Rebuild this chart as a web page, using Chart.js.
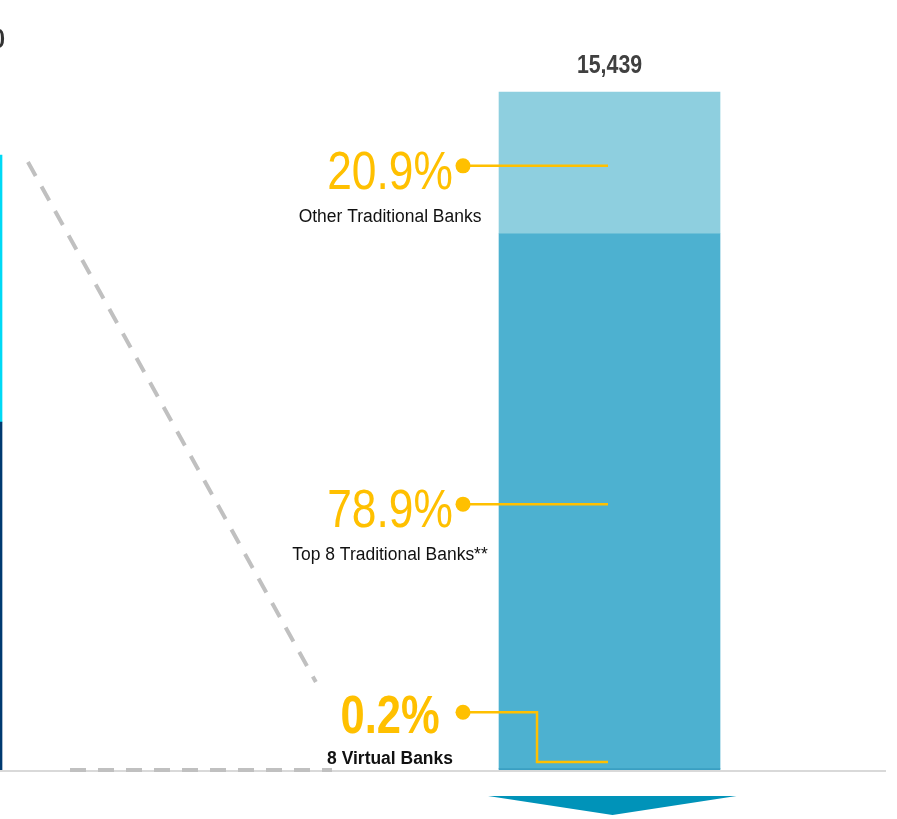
<!DOCTYPE html>
<html>
<head>
<meta charset="utf-8">
<script src="https://cdn.jsdelivr.net/npm/chart.js@4/dist/chart.umd.min.js"></script>
<style>
  html, body { margin: 0; padding: 0; background: #fff; overflow: hidden; }
</style>
</head>
<body>
<canvas id="c" width="897" height="819"></canvas>
<script>
// --- data ---
const segLabels = ['8 Virtual Banks', 'Top 8 Traditional Banks**', 'Other Traditional Banks'];
const segShares = [0.2, 78.9, 20.9];
const segValues = [31, 12181, 3227];
const totalValue = 15439;
const segColors = ['#3a9fc2', '#4db1d0', '#8ecfdf'];

// bar cut off at the left edge (previous panel)
const prevValues = [7925, 6080];
const prevColors = ['#003a70', '#00d9f5'];

const barPos = [0, 1]; // previous bar, current bar

// dashed connector (data units)
const slantLine = [{ x: 0.19, y: 13843 }, { x: 0.591, y: 2004 }];
const flatLine = [{ x: 0.2486, y: 0 }, { x: 0.6135, y: 0 }];

const SANS = '"Liberation Sans", Arial, sans-serif';
const YELLOW = '#ffc000';

const datasets = [];
prevValues.forEach((v, i) => {
    datasets.push({ type: 'bar', label: 'prev' + i, data: [{ x: barPos[0], y: v }], backgroundColor: prevColors[i], barThickness: 221, order: 2 });
});
segValues.forEach((v, i) => {
    datasets.push({ type: 'bar', label: segLabels[i], data: [{ x: barPos[1], y: v }], backgroundColor: segColors[i], barThickness: 221, order: 2 });
});
[slantLine, flatLine].forEach((pts, i) => {
    datasets.push({ type: 'line', label: 'conn' + i, data: pts, borderColor: '#c0c0c0', borderWidth: 4,
        borderDash: [16, 12], pointRadius: 0, fill: false, clip: false, stack: 'lines' + i, order: 1 });
});

// texte "narrow" : Liberation Sans compressé horizontalement
function narrowText(ctx, text, x, y, font, align, sx) {
    ctx.save();
    ctx.translate(x, y);
    ctx.scale(sx || 0.82, 1);
    ctx.font = font;
    ctx.textAlign = align;
    ctx.textBaseline = 'alphabetic';
    ctx.fillText(text, 0, 0);
    ctx.restore();
}

// plugin pour les annotations
const decor = {
    id: 'decor',
    beforeDatasetsDraw(chart) {
        const ctx = chart.ctx;
        const y0 = chart.scales.y.getPixelForValue(0);
        ctx.save();
        ctx.strokeStyle = '#d9d9d9';
        ctx.lineWidth = 2;
        ctx.beginPath();
        ctx.moveTo(0, y0 + 1);
        ctx.lineTo(886, y0 + 1);
        ctx.stroke();
        ctx.restore();
    },
    afterDatasetsDraw(chart) {
        const ctx = chart.ctx;
        const first = prevValues.length;
        const bars = segValues.map((v, i) => chart.getDatasetMeta(first + i).data[0]);
        const top = bars[bars.length - 1];
        const cx = top.x;
        const y0 = chart.scales.y.getPixelForValue(0);

        ctx.save();
        // total above the bar
        ctx.fillStyle = '#404040';
        narrowText(ctx, totalValue.toLocaleString('en-US'), cx, top.y - 19, 'bold 26px ' + SANS, 'center');

        // callouts
        const textX = cx - 219.5;
        const dotX = cx - 146.5;
        const lineEnd = cx - 1.5;
        bars.forEach((b, i) => {
            const mid = (b.y + b.base) / 2;
            const small = i === 0;
            const dotY = small ? mid - 57 : mid + 3;
            ctx.strokeStyle = YELLOW;
            ctx.fillStyle = YELLOW;
            ctx.lineWidth = 2.5;
            ctx.beginPath();
            ctx.moveTo(dotX, dotY);
            if (small) {
                ctx.lineTo(cx - 72.5, dotY);
                ctx.lineTo(cx - 72.5, b.base - 8);
                ctx.lineTo(lineEnd, b.base - 8);
            } else {
                ctx.lineTo(lineEnd, dotY);
            }
            ctx.stroke();
            ctx.beginPath();
            ctx.arc(dotX, dotY, 7.5, 0, Math.PI * 2);
            ctx.fill();

            narrowText(ctx, segShares[i].toFixed(1) + '%', textX, dotY + (small ? 21 : 23),
                (small ? 'bold 53px ' : '54px ') + SANS, 'center');
            ctx.fillStyle = '#111';
            narrowText(ctx, segLabels[i], textX, dotY + (small ? 52 : 56),
                (small ? 'bold 18px ' : '18px ') + SANS, 'center', 0.97);
        });

        // arrow below the bar
        ctx.fillStyle = '#0093b9';
        ctx.beginPath();
        ctx.moveTo(cx - 121.5, y0 + 26);
        ctx.lineTo(cx + 127, y0 + 26);
        ctx.lineTo(cx + 3, y0 + 45);
        ctx.closePath();
        ctx.fill();

        // bout de texte coupé en haut à gauche
        ctx.fillStyle = '#333';
        narrowText(ctx, '0', 5, 48, 'bold 28px ' + SANS, 'right');
        ctx.restore();
    }
};

new Chart(document.getElementById('c').getContext('2d'), {
    data: { datasets: datasets },
    options: {
        responsive: false,
        animation: false,
        devicePixelRatio: 1,
        layout: { padding: { left: 0, right: 0, top: 0, bottom: 49 } },
        plugins: { legend: { display: false }, tooltip: { enabled: false } },
        scales: {
            x: { type: 'linear', min: 0.1511, max: 1.4004, offset: false, stacked: true, display: false },
            y: { min: 0, max: 17534, stacked: true, display: false }
        }
    },
    plugins: [decor]
});
</script>
</body>
</html>
